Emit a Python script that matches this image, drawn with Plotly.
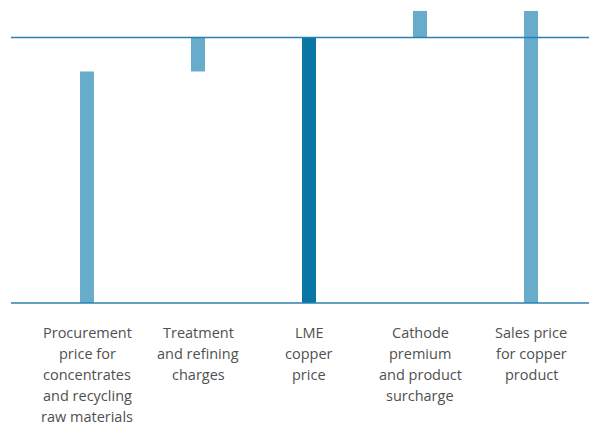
import plotly.graph_objects as go

categories = ["Procurement", "TC/RC", "LME", "Premium", "Sales"]
label_lines = [
    ["Procurement", "price for", "concentrates", "and recycling", "raw materials"],
    ["Treatment", "and refining", "charges"],
    ["LME", "copper", "price"],
    ["Cathode", "premium", "and product", "surcharge"],
    ["Sales price", "for copper", "product"],
]
bar_bases = [0, 87.2, 0, 100, 0]
bar_heights = [87.2, 12.8, 100, 10, 110]
lme_level = 100
bar_colors = ["#67acca", "#67acca", "#0a76a6", "#67acca", "#67acca"]

x_idx = list(range(len(categories)))

fig = go.Figure()
fig.add_trace(go.Bar(
    x=x_idx, y=bar_heights, base=bar_bases,
    marker=dict(color=bar_colors, line=dict(width=0)),
    width=0.126, hoverinfo="skip",
))

line_color = "#2a80b2"
for yv in [0, lme_level]:
    fig.add_shape(type="line", xref="paper", yref="y", x0=0, x1=1, y0=yv, y1=yv,
                  line=dict(color=line_color, width=1.5), layer="above")

for i, lines in enumerate(label_lines):
    for k, t in enumerate(lines):
        fig.add_annotation(x=i, y=0, xref="x", yref="paper", text=t, showarrow=False,
                           xanchor="center", yanchor="middle",
                           yshift=-(24 + 21 * k),
                           font=dict(family="Open Sans", size=14.5, color="#505050"))

fig.update_layout(
    width=597, height=435,
    margin=dict(l=3, r=8, t=0, b=135),
    plot_bgcolor="white", paper_bgcolor="white",
    showlegend=False,
    xaxis=dict(range=[-0.6847, 4.5946], showticklabels=False, showgrid=False,
               zeroline=False, showline=False, fixedrange=True),
    yaxis=dict(range=[-1.883, 111.11], showticklabels=False, showgrid=False,
               zeroline=False, showline=False, fixedrange=True),
)

fig.write_html("out.html")
